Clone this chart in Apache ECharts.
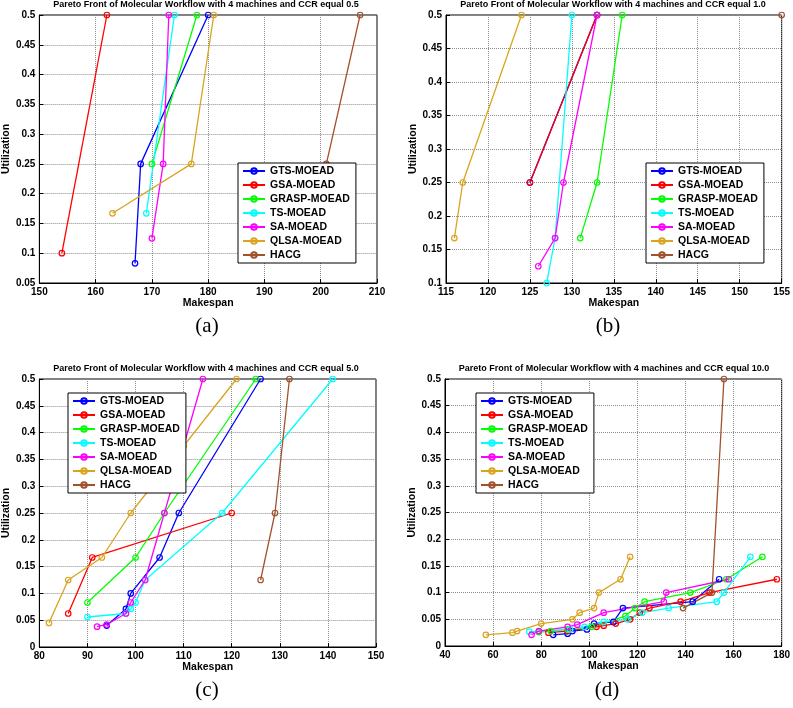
<!DOCTYPE html>
<html>
<head>
<meta charset="utf-8">
<script src="https://cdn.jsdelivr.net/npm/echarts@6/dist/echarts.min.js"></script>
<style>
html, body { margin: 0; padding: 0; background: #fff; }
#main { width: 793px; height: 708px; }
</style>
</head>
<body>
<div id="main"></div>
<script>
var names = ['GTS-MOEAD', 'GSA-MOEAD', 'GRASP-MOEAD', 'TS-MOEAD', 'SA-MOEAD', 'QLSA-MOEAD', 'HACG'];
var colors = ['#0000ff', '#ff0000', '#00ff00', '#00ffff', '#ff00ff', '#d9a521', '#a0522d'];

// (a) CCR 0.5
var gtsA = [[167, 0.083], [168, 0.25], [180, 0.5]];
var gsaA = [[154, 0.1], [162, 0.5]];
var graspA = [[170, 0.25], [178, 0.5]];
var tsA = [[169, 0.167], [174, 0.5]];
var saA = [[170, 0.125], [172, 0.25], [173, 0.5]];
var qlsaA = [[163, 0.167], [177, 0.25], [181, 0.5]];
var hacgA = [[199, 0.167], [201, 0.25], [207, 0.5]];

// (b) CCR 1.0
var gtsB = [[125, 0.25], [133, 0.5]];
var gsaB = [[125, 0.25], [133, 0.5]];
var graspB = [[131, 0.167], [133, 0.25], [136, 0.5]];
var tsB = [[127, 0.1], [128, 0.167], [130, 0.5]];
var saB = [[126, 0.125], [128, 0.167], [129, 0.25], [133, 0.5]];
var qlsaB = [[116, 0.167], [117, 0.25], [124, 0.5]];
var hacgB = [[155, 0.5]];

// (c) CCR 5.0
var gtsC = [[94, 0.04], [98, 0.071], [99, 0.1], [105, 0.167], [109, 0.25], [126, 0.5]];
var gsaC = [[86, 0.0625], [91, 0.167], [120, 0.25]];
var graspC = [[90, 0.083], [100, 0.167], [106, 0.25], [125, 0.5]];
var tsC = [[90, 0.056], [98, 0.0625], [99, 0.071], [100, 0.083], [102, 0.125], [118, 0.25], [141, 0.5]];
var saC = [[92, 0.038], [94, 0.042], [98, 0.0625], [99, 0.083], [102, 0.125], [106, 0.25], [114, 0.5]];
var qlsaC = [[82, 0.045], [86, 0.125], [93, 0.167], [99, 0.25], [110, 0.375], [121, 0.5]];
var hacgC = [[126, 0.125], [129, 0.25], [132, 0.5]];

// (d) CCR 10.0
var gtsD = [[85, 0.021], [91, 0.023], [93, 0.028], [99, 0.031], [102, 0.042], [110, 0.045], [114, 0.071], [143, 0.083], [154, 0.125]];
var gsaD = [[83, 0.025], [91, 0.028], [103, 0.036], [106, 0.038], [111, 0.042], [117, 0.05], [121, 0.0625], [125, 0.071], [138, 0.083], [150, 0.1], [178, 0.125]];
var graspD = [[79, 0.026], [84, 0.028], [91, 0.031], [101, 0.036], [115, 0.056], [119, 0.071], [123, 0.083], [142, 0.1], [157, 0.125], [172, 0.167]];
var tsD = [[75, 0.027], [92, 0.031], [98, 0.036], [106, 0.045], [116, 0.05], [122, 0.0625], [133, 0.071], [153, 0.083], [156, 0.1], [167, 0.167]];
var saD = [[76, 0.021], [79, 0.028], [91, 0.036], [95, 0.04], [106, 0.0625], [131, 0.083], [132, 0.1], [158, 0.125]];
var qlsaD = [[57, 0.021], [68, 0.025], [70, 0.028], [80, 0.042], [93, 0.05], [96, 0.0625], [102, 0.071], [104, 0.1], [113, 0.125], [117, 0.167]];
var hacgD = [[139, 0.071], [151, 0.1], [156, 0.5]];

// axis ranges: [min, max, interval]
var xRanges = [[150, 210, 10], [115, 155, 5], [80, 150, 10], [40, 180, 20]];
var yRanges = [[0.05, 0.5, 0.05], [0.1, 0.5, 0.05], [0, 0.5, 0.05], [0, 0.5, 0.05]];
var ccr = ['0.5', '1.0', '5.0', '10.0'];
var captions = ['(a)', '(b)', '(c)', '(d)'];

var panels = [
    [gtsA, gsaA, graspA, tsA, saA, qlsaA, hacgA],
    [gtsB, gsaB, graspB, tsB, saB, qlsaB, hacgB],
    [gtsC, gsaC, graspC, tsC, saC, qlsaC, hacgC],
    [gtsD, gsaD, graspD, tsD, saD, qlsaD, hacgD]
];

var grids = [
    { left: 37, top: 15, width: 340, height: 268 },
    { left: 446, top: 15, width: 338, height: 268 },
    { left: 37, top: 379, width: 339, height: 268 },
    { left: 445, top: 379, width: 338, height: 267 }
];
var legendPos = [[238, 163], [646, 163], [68, 393], [476, 393]];
var titlePos = [[206, 5], [613, 5], [206, 369], [614, 369]];
var captionPos = [[207, 326], [608, 326], [207, 690], [607, 690]];

var font = 'Liberation Sans, Arial, sans-serif';
var myChart = echarts.init(document.getElementById('main'));

var option = {
    animation: false,
    backgroundColor: '#fff',
    textStyle: { fontFamily: font },
    grid: [],
    xAxis: [],
    yAxis: [],
    legend: [],
    series: [],
    graphic: []
};

for (var p = 0; p < 4; p++) {
    option.grid.push({
        left: grids[p].left, top: grids[p].top, width: grids[p].width, height: grids[p].height,
        show: true, borderColor: '#000', borderWidth: 1, backgroundColor: '#fff'
    });
    option.xAxis.push({
        gridIndex: p, type: 'value',
        min: xRanges[p][0], max: xRanges[p][1], interval: xRanges[p][2],
        name: 'Makespan', nameLocation: 'middle', nameGap: 14,
        nameTextStyle: { color: '#000', fontSize: 10.5, fontWeight: 'bold', fontFamily: font },
        axisLine: { show: true, onZero: false, lineStyle: { color: '#000', width: 1 } },
        axisTick: { show: true, inside: true, length: 4, lineStyle: { color: '#000' } },
        axisLabel: { color: '#000', fontSize: 10, fontWeight: 'bold', margin: 4, fontFamily: font },
        splitLine: { show: true, lineStyle: { type: 'dotted', color: '#8c8c8c', width: 1 } }
    });
    option.yAxis.push({
        gridIndex: p, type: 'value',
        min: yRanges[p][0], max: yRanges[p][1], interval: yRanges[p][2],
        name: 'Utilization', nameLocation: 'middle', nameGap: 24,
        nameTextStyle: { color: '#000', fontSize: 10.5, fontWeight: 'bold', fontFamily: font },
        axisLine: { show: true, onZero: false, lineStyle: { color: '#000', width: 1 } },
        axisTick: { show: true, inside: true, length: 4, lineStyle: { color: '#000' } },
        axisLabel: { color: '#000', fontSize: 10, fontWeight: 'bold', margin: 4, fontFamily: font },
        splitLine: { show: true, lineStyle: { type: 'dotted', color: '#8c8c8c', width: 1 } }
    });
    option.legend.push({
        orient: 'vertical',
        left: legendPos[p][0], top: legendPos[p][1],
        data: names,
        itemWidth: 22, itemHeight: 7, itemGap: 2,
        padding: [2, 6, 2, 4],
        backgroundColor: '#fff', borderColor: '#000', borderWidth: 1,
        textStyle: { color: '#000', fontSize: 10.5, fontWeight: 'bold', lineHeight: 12, fontFamily: font },
        selectedMode: false,
        z: 10
    });
    for (var s = 0; s < names.length; s++) {
        option.series.push({
            name: names[s],
            type: 'line',
            xAxisIndex: p, yAxisIndex: p,
            data: panels[p][s],
            symbol: 'circle',
            symbolSize: 5.5,
            lineStyle: { color: colors[s], width: 1.3 },
            itemStyle: { color: 'rgba(255,255,255,0)', borderColor: colors[s], borderWidth: 1.2 },
            emphasis: { disabled: true },
            clip: false
        });
    }
    option.graphic.push({
        type: 'text', x: titlePos[p][0], y: titlePos[p][1],
        style: {
            text: 'Pareto Front of Molecular Workflow with 4 machines and CCR equal ' + ccr[p],
            font: 'bold 9px ' + font, fill: '#000', textAlign: 'center', textVerticalAlign: 'middle'
        }
    });
    option.graphic.push({
        type: 'text', x: captionPos[p][0], y: captionPos[p][1],
        style: {
            text: captions[p],
            font: '21px Liberation Serif, DejaVu Serif, serif', fill: '#000', textAlign: 'center', textVerticalAlign: 'middle'
        }
    });
}

myChart.setOption(option);
</script>
</body>
</html>
